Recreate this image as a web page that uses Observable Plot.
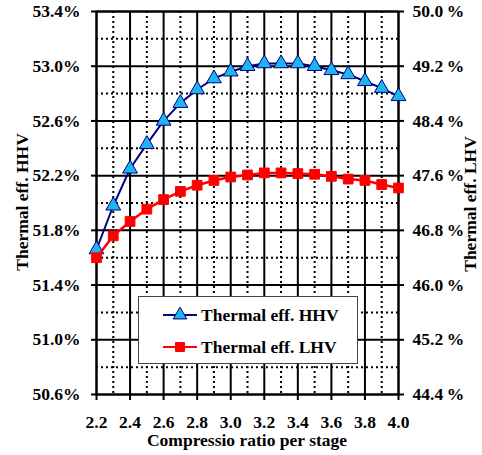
<!DOCTYPE html>
<html>
<head>
<meta charset="utf-8">
<script src="https://cdn.jsdelivr.net/npm/d3@7"></script>
<script src="https://cdn.jsdelivr.net/npm/@observablehq/plot@0.6"></script>
<style>
  html, body { margin: 0; padding: 0; background: white; }
</style>
</head>
<body>
<div id="chart"></div>
<script>
// ---- data ----
const ratio = [2.2, 2.3, 2.4, 2.5, 2.6, 2.7, 2.8, 2.9, 3.0, 3.1, 3.2, 3.3, 3.4, 3.5, 3.6, 3.7, 3.8, 3.9, 4.0];
const hhv = [51.66, 51.98, 52.25, 52.43, 52.60, 52.73, 52.83, 52.91, 52.96, 53.00, 53.02, 53.02, 53.02, 53.00, 52.97, 52.94, 52.89, 52.84, 52.78];
const lhv = [46.40, 46.72, 46.93, 47.11, 47.25, 47.37, 47.46, 47.53, 47.58, 47.61, 47.64, 47.64, 47.63, 47.62, 47.59, 47.55, 47.53, 47.47, 47.42];
const seriesNames = ["Thermal eff. HHV", "Thermal eff. LHV"];
const xTicks = [2.2, 2.4, 2.6, 2.8, 3.0, 3.2, 3.4, 3.6, 3.8, 4.0];
const xMinor = [2.3, 2.5, 2.7, 2.9, 3.1, 3.3, 3.5, 3.7, 3.9];
const yLeftTicks = [50.6, 51.0, 51.4, 51.8, 52.2, 52.6, 53.0, 53.4];
const yMinor = [50.8, 51.2, 51.6, 52.0, 52.4, 52.8, 53.2];
const yRightTicks = [44.4, 45.2, 46.0, 46.8, 47.6, 48.4, 49.2, 50.0];
const xLabel = "Compressio ratio per stage";
const yLeftLabel = "Thermal eff. HHV";
const yRightLabel = "Thermal eff. LHV";

// right axis mapped onto left scale
const leftDomain = [50.6, 53.4];
const rightDomain = [44.4, 50.0];
const toLeft = v => leftDomain[0] + (v - rightDomain[0]) * (leftDomain[1] - leftDomain[0]) / (rightDomain[1] - rightDomain[0]);
const toRight = v => rightDomain[0] + (v - leftDomain[0]) * (rightDomain[1] - rightDomain[0]) / (leftDomain[1] - leftDomain[0]);

const dataH = ratio.map((r, i) => ({x: r, y: hhv[i]}));
const dataL = ratio.map((r, i) => ({x: r, y: toLeft(lhv[i])}));

const font = "'Liberation Serif', 'Times New Roman', serif";
const fs = 17.5;
const navy = "#000080";
const cyan = "#1EB4F0";
const red = "#FF0000";
const txt = {fontFamily: font, fontWeight: "bold", fontSize: fs};

const chart = Plot.plot({
  width: 482,
  height: 455,
  marginLeft: 96,
  marginRight: 84,
  marginTop: 11,
  marginBottom: 61,
  style: {fontFamily: font, fontWeight: "bold", fontSize: fs + "px", background: "white", color: "black"},
  x: {domain: [2.2, 4.0]},
  y: {domain: leftDomain},
  marks: [
    Plot.ruleX(xMinor, {stroke: "black", strokeWidth: 2, strokeDasharray: "2,3"}),
    Plot.ruleY(yMinor, {stroke: "black", strokeWidth: 2, strokeDasharray: "2,3"}),
    Plot.ruleX(xTicks, {stroke: "black", strokeWidth: 2}),
    Plot.ruleY(yLeftTicks, {stroke: "black", strokeWidth: 2}),
    Plot.frame({stroke: "black", strokeWidth: 2}),
    Plot.axisX({ticks: xTicks, tickFormat: d3.format(".1f"), tickSize: 6, tickPadding: 15, strokeWidth: 2, label: null, ...txt}),
    Plot.axisY({ticks: yLeftTicks, tickFormat: d => d.toFixed(1) + "%", tickSize: 5, tickPadding: 11, strokeWidth: 2, label: null, ...txt}),
    Plot.axisY({anchor: "right", ticks: yLeftTicks, tickFormat: d => toRight(d).toFixed(1) + "\u2009%", tickSize: 5, tickPadding: 9, strokeWidth: 2, label: null, ...txt}),
    Plot.line(dataH, {x: "x", y: "y", stroke: navy, strokeWidth: 2}),
    Plot.dot(dataH, {x: "x", y: "y", symbol: "triangle", r: 5.5, fill: cyan, stroke: navy, strokeWidth: 1}),
    Plot.line(dataL, {x: "x", y: "y", stroke: red, strokeWidth: 2.5}),
    Plot.dot(dataL, {x: "x", y: "y", symbol: "square", r: 5.5, fill: red, stroke: red, strokeWidth: 1})
  ]
});

document.getElementById("chart").appendChild(chart);

// axis titles and legend
const svg = d3.select(chart);
const tstyle = s => s.attr("font-family", font).attr("font-weight", "bold").attr("font-size", fs).attr("fill", "black");

svg.append("text").call(tstyle).attr("x", 247).attr("y", 446).attr("text-anchor", "middle").text(xLabel);
svg.append("text").call(tstyle).attr("transform", "translate(28,202) rotate(-90)").attr("text-anchor", "middle").text(yLeftLabel);
svg.append("text").call(tstyle).attr("transform", "translate(476,204) rotate(-90)").attr("text-anchor", "middle").text(yRightLabel);

const lg = svg.append("g");
lg.append("rect").attr("x", 138.5).attr("y", 296.5).attr("width", 219).attr("height", 67)
  .attr("fill", "white").attr("stroke", "#444").attr("stroke-width", 1);
const rows = [
  {name: seriesNames[0], y: 315, stroke: navy, fill: cyan, sym: d3.symbolTriangle},
  {name: seriesNames[1], y: 347, stroke: red, fill: red, sym: d3.symbolSquare}
];
rows.forEach(r => {
  lg.append("line").attr("x1", 163).attr("x2", 197).attr("y1", r.y).attr("y2", r.y).attr("stroke", r.stroke).attr("stroke-width", 2);
  lg.append("path").attr("d", d3.symbol(r.sym, 80)()).attr("transform", `translate(180,${r.y})`)
    .attr("fill", r.fill).attr("stroke", r.stroke).attr("stroke-width", 1);
  lg.append("text").call(tstyle).attr("x", 201).attr("y", r.y + 6).attr("text-anchor", "start").text(r.name);
});

// make sure every text uses the serif face
svg.selectAll("text").attr("font-family", font).attr("font-weight", "bold");
</script>
</body>
</html>
